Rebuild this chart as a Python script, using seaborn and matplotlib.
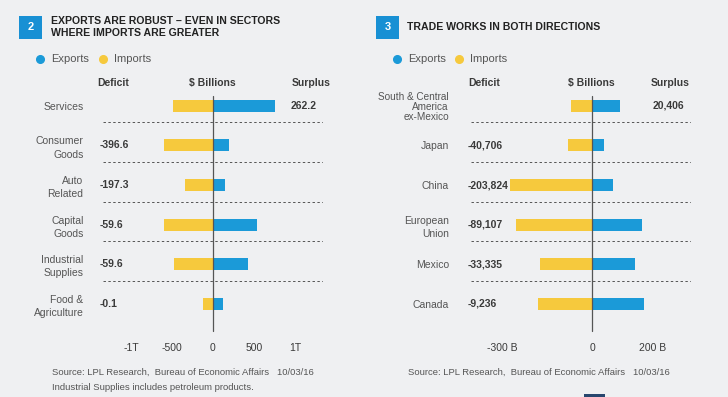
import numpy as np
import pandas as pd
import matplotlib.pyplot as plt
import seaborn as sns
from matplotlib.lines import Line2D
from matplotlib.patches import Rectangle

# chart 2 - by sector ($ billions)
sectors = ['Services', 'Consumer\nGoods', 'Auto\nRelated', 'Capital\nGoods', 'Industrial\nSupplies', 'Food &\nAgriculture']
sector_exports = [750.0, 198.0, 151.0, 540.0, 425.0, 127.7]
sector_imports = [488.0, 594.0, 347.0, 600.0, 480.0, 127.8]
sector_labels = ['262.2', '-396.6', '-197.3', '-59.6', '-59.6', '-0.1']

# chart 3 - by partner ($ billions)
partners = ['South & Central\nAmerica\nex-Mexico', 'Japan', 'China', 'European\nUnion', 'Mexico', 'Canada']
partner_exports = [93.0, 39.0, 68.0, 164.0, 140.0, 170.0]
partner_imports = [72.0, 80.0, 272.0, 253.0, 173.0, 180.0]
partner_labels = ['20,406', '-40,706', '-203,824', '-89,107', '-33,335', '-9,236']

left_ticks = [-1000, -500, 0, 500, 1000]
left_ticklabels = ['-1T', '-500', '0', '500', '1T']
right_ticks = [-300, 0, 200]
right_ticklabels = ['-300 B', '0', '200 B']

BLUE = '#1b9ad8'
YELLOW = '#f6c93d'
BG = '#eff0f2'
DARK = '#3a3a3a'
GREY = '#555555'

sns.set_theme(style='white')
plt.rcParams['font.family'] = ['Liberation Sans Narrow', 'Liberation Sans', 'DejaVu Sans']

W, H = 728, 397
fig = plt.figure(figsize=(W / 100, H / 100), dpi=100, facecolor=BG)


def px(x, y):
    return x / W, 1 - y / H


def make_df(cats, exp, imp):
    return pd.DataFrame({
        'cat': cats * 2,
        'value': list(exp) + [-v for v in imp],
        'flow': ['Exports'] * len(cats) + ['Imports'] * len(cats),
    })


def panel(x0, x1, cats, exp, imp, labels, xlim, ticks, ticklabels, label_pad):
    top, bottom = 86, 323.6
    ax = fig.add_axes([x0 / W, 1 - bottom / H, (x1 - x0) / W, (bottom - top) / H])
    ax.set_facecolor(BG)
    df = make_df(cats, exp, imp)
    sns.barplot(data=df, y='cat', x='value', hue='flow', dodge=False, width=0.3,
                palette={'Exports': BLUE, 'Imports': YELLOW}, saturation=1,
                legend=False, ax=ax, order=cats, linewidth=0)
    ax.set_xlim(*xlim)
    ax.set_ylim(len(cats) - 0.5, -0.5)
    for s in ax.spines.values():
        s.set_visible(False)
    ax.set_xlabel('')
    ax.set_ylabel('')
    ax.set_xticks(ticks)
    ax.set_xticklabels(ticklabels, fontsize=7.5, color=DARK)
    ax.tick_params(axis='x', length=0, pad=14)
    ax.tick_params(axis='y', length=0, pad=label_pad, labelsize=7.5, labelcolor=GREY)
    for t in ax.get_yticklabels():
        t.set_linespacing(1.4)
    for i in range(len(cats) - 1):
        ax.axhline(i + 0.42, color='#555555', lw=0.7, ls=(0, (2.5, 2.5)))
    ax.axvline(0, ymin=-0.03, ymax=0.96, color='#555555', lw=0.9, clip_on=False)
    for i, (e, m, lab) in enumerate(zip(exp, imp, labels)):
        if e - m > 0:
            ax.text(0.97, i, lab, transform=ax.get_yaxis_transform(), ha='right', va='center',
                    fontsize=7.5, fontweight='bold', color=DARK)
        else:
            ax.text(-0.015, i, lab, transform=ax.get_yaxis_transform(), ha='left', va='center',
                    fontsize=7.5, fontweight='bold', color=DARK)
    return ax


ax1 = panel(103, 323, sectors, sector_exports, sector_imports, sector_labels,
            (-1340, 1340), left_ticks, left_ticklabels, 14)
ax2 = panel(471, 691, partners, partner_exports, partner_imports, partner_labels,
            (-402, 327), right_ticks, right_ticklabels, 16)
for t in ax2.get_yticklabels():
    if t.get_text().startswith('South'):
        t.set_linespacing(1.0)
        t.set_fontsize(7.2)

# headers over the bars
for x, s in [(113, 'Deficit'), (212, '$ Billions'), (311, 'Surplus'),
             (484, 'Deficit'), (591, '$ Billions'), (670, 'Surplus')]:
    fig.text(*px(x, 83), s, ha='center', va='center', fontsize=7.5, fontweight='bold', color=DARK)

# numbered boxes and titles
for (bx, num) in [(19, '2'), (376, '3')]:
    fig.patches.append(Rectangle(px(bx, 39), 23 / W, 23 / H, transform=fig.transFigure,
                                 facecolor='#1890d4', edgecolor='none'))
    fig.text(*px(bx + 11.5, 27.5), num, ha='center', va='center', fontsize=8,
             fontweight='bold', color='white')
fig.text(*px(51, 27), 'EXPORTS ARE ROBUST – EVEN IN SECTORS\nWHERE IMPORTS ARE GREATER',
         ha='left', va='center', fontsize=7.6, fontweight='bold', color='#222222', linespacing=1.3)
fig.text(*px(407, 27), 'TRADE WORKS IN BOTH DIRECTIONS',
         ha='left', va='center', fontsize=7.6, fontweight='bold', color='#222222')

# legends
for (cx, col, s) in [(40, BLUE, 'Exports'), (103, YELLOW, 'Imports'),
                     (397, BLUE, 'Exports'), (459, YELLOW, 'Imports')]:
    fig.add_artist(Line2D([cx / W], [1 - 59 / H], marker='o', markersize=5.5, color=col,
                          transform=fig.transFigure, lw=0))
    fig.text(*px(cx + 11, 59), s, ha='left', va='center', fontsize=8, color=GREY)

# footers
fig.text(*px(52, 372), 'Source: LPL Research,  Bureau of Economic Affairs   10/03/16',
         ha='left', va='center', fontsize=6.8, color=GREY)
fig.text(*px(52, 388), 'Industrial Supplies includes petroleum products.',
         ha='left', va='center', fontsize=6.8, color=GREY)
fig.text(*px(408, 372), 'Source: LPL Research,  Bureau of Economic Affairs   10/03/16',
         ha='left', va='center', fontsize=6.8, color=GREY)
fig.patches.append(Rectangle(px(584, 397), 21 / W, 3 / H, transform=fig.transFigure,
                             facecolor='#27466e', edgecolor='none'))

fig.savefig('out.png', dpi=100, facecolor=BG)
